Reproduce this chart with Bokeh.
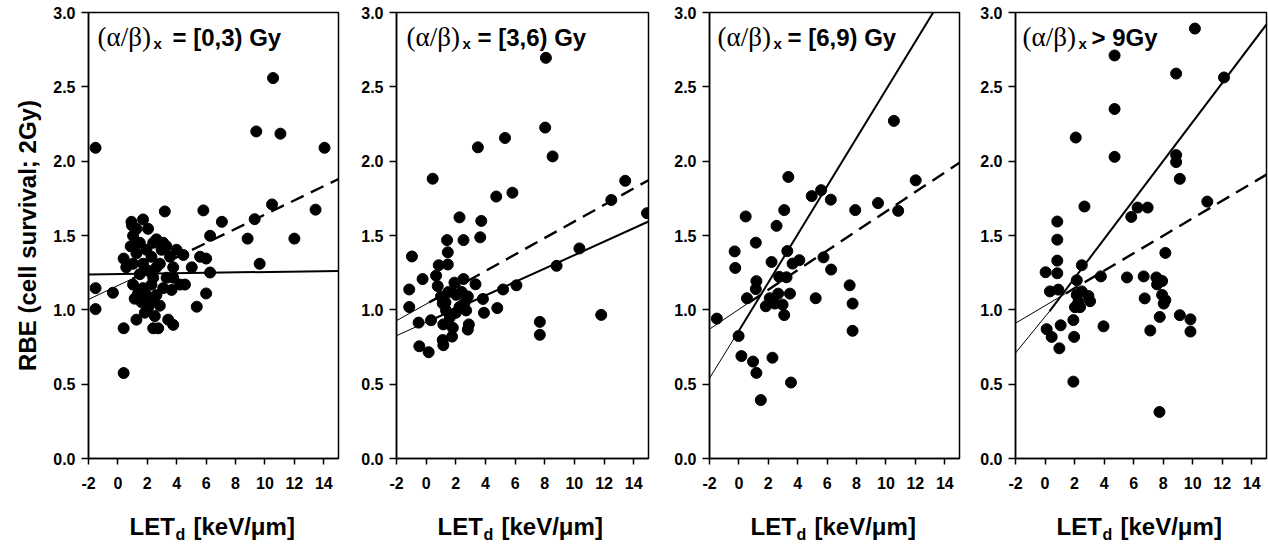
from bokeh.plotting import figure
from bokeh.models import Range1d, FixedTicker, Label, PrintfTickFormatter
from bokeh.layouts import row, column
from bokeh.embed import file_html
from bokeh.resources import INLINE

# ---------------- data ----------------
x_ticks = [-2, 0, 2, 4, 6, 8, 10, 12, 14]
y_ticks = [0.0, 0.5, 1.0, 1.5, 2.0, 2.5, 3.0]
panel_titles = ["= [0,3) Gy", "= [3,6) Gy", "= [6,9) Gy", "> 9Gy"]
y_label = "RBE (cell survival; 2Gy)"
x_label_main = "LET"
x_label_sub = "d"
x_label_unit = "[keV/\u03bcm]"

p1_let = [-1.52, -1.52, -1.52, -0.34, 0.39, 0.39, 0.39, 0.57, 1.26, 1.71,
          0.96, 1.03, 0.87, 1.26, 2.05, 2.62, 3.19, 3.30, 3.99, 4.45,
          2.85, 1.49, 1.03, 1.14, 1.94, 2.40, 3.08, 3.76, 4.22, 4.56,
          2.05, 2.51, 2.40, 2.74, 3.42, 3.76, 5.36, 6.00, 6.27, 6.00,
          5.02, 5.59, 6.27, 5.81, 7.07, 8.82, 9.30, 9.64, 9.41, 10.55,
          11.05, 10.48, 12.00, 13.44, 14.05,
          0.92, 1.26, 1.49, 1.94, 2.28, 1.71, 2.05, 2.62, 2.97, 3.54,
          2.28, 1.71, 2.62, 3.31, 3.76, 1.60, 1.83, 2.28, 2.85, 3.08,
          2.40, 3.65, 1.03, 1.37]
p1_rbe = [2.09, 1.146, 1.005, 1.115, 1.345, 0.876, 0.575, 1.286, 0.934, 1.608,
          1.568, 1.498, 1.427, 1.38, 1.545, 1.474, 1.662, 1.427, 1.404, 1.369,
          1.31, 1.24, 1.17, 1.075, 1.099, 1.216, 1.146, 1.216, 1.17, 1.17,
          1.016, 0.958, 0.876, 0.876, 0.934, 0.899, 1.021, 1.11, 1.251, 1.345,
          1.286, 1.357, 1.498, 1.669, 1.592, 1.479, 1.61, 1.31, 2.20, 2.559,
          2.185, 1.709, 1.479, 1.674, 2.09,
          1.592, 1.545, 1.451, 1.404, 1.357, 1.31, 1.263, 1.286, 1.404, 1.357,
          1.169, 1.146, 1.099, 1.216, 1.286, 1.052, 0.981, 1.052, 1.028, 1.451,
          1.451, 1.134, 1.31, 1.11]

p2_let = [-1.14, -1.14, -0.96, -0.51, -0.46, 0.17, -0.24, 0.33, 0.44, 0.67,
          0.78, 0.85, 1.46, 1.46, 1.41, 1.12, 1.16, 1.12, 1.16, 1.00,
          1.34, 1.80, 1.75, 1.91, 2.02, 2.25, 2.52, 2.52, 2.25, 2.70,
          2.81, 2.88, 2.81, 3.33, 3.49, 3.65, 3.72, 3.83, 3.90, 4.80,
          4.73, 5.19, 5.32, 5.82, 6.09, 7.67, 7.67, 8.03, 8.08, 8.53,
          8.80, 10.34, 11.81, 12.49, 13.43, 14.90,
          1.30, 1.60, 2.00, 2.40, 2.60, 1.50]
p2_rbe = [1.137, 1.019, 1.359, 0.914, 0.755, 0.715, 1.207, 0.930, 1.882, 1.23,
          1.16, 1.30, 1.305, 1.387, 1.469, 1.043, 0.902, 0.797, 0.762, 1.09,
          0.996, 0.879, 0.82, 1.183, 1.101, 1.622, 1.469, 1.207, 1.019, 0.996,
          1.09, 0.902, 0.867, 1.172, 2.093, 1.488, 1.598, 1.073, 0.98, 1.012,
          1.762, 1.137, 2.156, 1.788, 1.165, 0.919, 0.832, 2.226, 2.695, 2.032,
          1.296, 1.413, 0.966, 1.739, 1.868, 1.65,
          1.05, 0.95, 0.98, 1.12, 1.05, 1.12]

p3_let = [-1.50, -0.29, -0.25, -0.02, 0.17, 0.46, 0.55, 0.96, 1.19, 1.15,
          1.19, 1.15, 1.49, 1.83, 2.22, 2.28, 2.10, 2.44, 2.56, 2.67,
          2.74, 2.97, 3.08, 3.08, 3.24, 3.29, 3.36, 3.47, 3.54, 3.65,
          4.11, 4.95, 5.22, 5.59, 5.75, 6.25, 6.27, 7.53, 7.73, 7.73,
          7.91, 9.46, 10.54, 10.83, 12.02]
p3_rbe = [0.941, 1.393, 1.282, 0.824, 0.689, 1.628, 1.078, 0.652, 0.576, 1.452,
          1.193, 1.14, 0.393, 1.024, 1.322, 0.678, 1.078, 1.042, 1.565, 1.109,
          1.222, 1.035, 1.671, 0.965, 1.219, 1.395, 1.894, 1.109, 0.511, 1.311,
          1.334, 1.765, 1.078, 1.805, 1.353, 1.741, 1.271, 1.165, 1.042, 0.859,
          1.671, 1.718, 2.271, 1.666, 1.871]

p4_let = [0.04, 0.11, 0.45, 0.33, 0.83, 0.83, 0.83, 0.83, 0.90, 0.97,
          1.06, 1.92, 1.97, 1.92, 2.08, 2.15, 2.15, 2.03, 2.26, 2.37,
          2.49, 2.49, 2.67, 2.94, 3.05, 3.78, 3.96, 4.71, 4.71, 4.71,
          5.55, 5.84, 6.27, 6.95, 6.68, 6.75, 7.13, 7.54, 7.59, 7.77,
          7.93, 7.93, 8.04, 8.15, 8.15, 7.75, 8.88, 8.88, 8.88, 9.13,
          9.13, 9.85, 9.85, 10.15, 10.99, 12.12]
p4_rbe = [1.253, 0.87, 0.818, 1.124, 1.594, 1.472, 1.331, 1.246, 1.136, 0.741,
          0.896, 0.931, 0.818, 0.517, 2.159, 1.199, 1.10, 1.018, 1.053, 1.018,
          1.30, 1.124, 1.695, 1.093, 1.058, 1.225, 0.889, 2.711, 2.351, 2.029,
          1.218, 1.625, 1.688, 1.688, 1.225, 1.077, 0.861, 1.218, 1.171, 0.952,
          1.194, 1.10, 1.042, 1.383, 1.065, 0.313, 2.589, 2.041, 1.994, 1.881,
          0.964, 0.936, 0.854, 2.892, 1.728, 2.563]

# fit lines: x = [start, end of thin part, end], y read at those x
solid_x = [[-2, -2, 15], [-2, 0.2, 15], [-2, 0.0, 15], [-2, 0.3, 15]]
solid_y = [[1.237, 1.237, 1.262], [0.826, 0.925, 1.594], [0.54, 0.86, 3.29], [0.71, 0.99, 2.92]]
dash_x = [[-2, 1.0, 15], [-2, 0.2, 15], [-2, 0.7, 15], [-2, 1.4, 15]]
dash_y = [[1.07, 1.21, 1.88], [0.927, 1.05, 1.872], [0.87, 1.05, 1.99], [0.91, 1.11, 1.91]]

lets = [p1_let, p2_let, p3_let, p4_let]
rbes = [p1_rbe, p2_rbe, p3_rbe, p4_rbe]

# ---------------- layout ----------------
H = 545
TOP = 12
FH = 446
MAIN_H = 500
LAB_H = H - MAIN_H
geo = [  # left border, frame width, right border
    (88, 250, 4),
    (54, 252, 4),
    (57, 250, 4),
    (52, 251, 2),
]
title_dx = [(9, 84), (10, 81), (8, 78), (7, 76)]

SANS = "Liberation Sans"
SERIF = "Liberation Serif"


def lab(x, y, text, size, font=SANS, style="bold"):
    return Label(x=x, y=y, text=text, text_font=font, text_font_style=style,
                 text_font_size=size, text_color="black",
                 text_baseline="middle", text_align="left")


cols = []
for i in range(4):
    lb, fw, rb = geo[i]
    W = lb + fw + rb
    p = figure(x_range=Range1d(-2, 15), y_range=Range1d(0, 3),
               width=W, height=MAIN_H,
               min_border_left=lb, min_border_top=TOP, min_border_right=rb,
               min_border_bottom=MAIN_H - TOP - FH,
               output_backend="svg", toolbar_location=None,
               background_fill_color="white", border_fill_color="white")
    p.grid.visible = False
    p.outline_line_color = "black"
    p.outline_line_width = 1.5
    p.outline_line_alpha = 1.0
    for ax in (p.xaxis, p.yaxis):
        ax.axis_line_width = 1.5
        ax.axis_line_color = "black"
        ax.major_tick_line_width = 1.5
        ax.major_tick_line_color = "black"
        ax.major_tick_in = 0
        ax.minor_tick_line_color = None
        ax.major_label_text_font = SANS
        ax.major_label_text_font_style = "bold"
        ax.major_label_text_font_size = "16px"
        ax.major_label_text_color = "black"
    p.xaxis.ticker = FixedTicker(ticks=x_ticks)
    p.yaxis.ticker = FixedTicker(ticks=y_ticks)
    p.xaxis.formatter = PrintfTickFormatter(format="%d")
    p.yaxis.formatter = PrintfTickFormatter(format="%.1f")
    p.xaxis.major_tick_out = 6
    p.yaxis.major_tick_out = 7
    p.xaxis.major_label_standoff = 12
    p.yaxis.major_label_standoff = 6
    if i == 0:
        p.yaxis.axis_label = y_label
        p.yaxis.axis_label_text_font = SANS
        p.yaxis.axis_label_text_font_style = "bold"
        p.yaxis.axis_label_text_font_size = "24px"
        p.yaxis.axis_label_text_color = "black"
        p.yaxis.axis_label_standoff = 9

    def px2x(dx, fw=fw):
        return -2 + dx / fw * 17.0

    def px2y(dy):
        return 3.0 - dy / FH * 3.0

    # fit lines
    sx, sy = solid_x[i], solid_y[i]
    if sx[1] > sx[0]:
        p.line(sx[0:2], sy[0:2], line_color="black", line_width=1)
    p.line(sx[1:3], sy[1:3], line_color="black", line_width=2)
    dx_, dy_ = dash_x[i], dash_y[i]
    p.line(dx_[0:2], dy_[0:2], line_color="black", line_width=1)
    p.line(dx_[1:3], dy_[1:3], line_color="black", line_width=2.4, line_dash="14 8")

    # points
    p.scatter(lets[i], rbes[i], size=11, color="black")

    # panel title (vertical centres)
    a, c = title_dx[i]
    p.add_layout(lab(px2x(a), px2y(24), "(\u03b1/\u03b2)", "27px", font=SERIF, style="normal"))
    p.add_layout(lab(px2x(a + 56), px2y(31), "x", "15px"))
    p.add_layout(lab(px2x(c), px2y(25), panel_titles[i], "24px"))

    # x-axis label strip below the panel; its frame is aligned with the panel frame
    lf = figure(width=W, height=LAB_H,
                x_range=Range1d(0, fw), y_range=Range1d(0, LAB_H),
                min_border_left=lb, min_border_right=rb,
                min_border_top=0, min_border_bottom=0,
                output_backend="svg", toolbar_location=None,
                x_axis_type=None, y_axis_type=None,
                background_fill_color="white", border_fill_color="white")
    lf.outline_line_color = None
    lf.grid.visible = False
    lf.add_layout(lab(41, 19, x_label_main, "24px"))
    lf.add_layout(lab(87, 11, x_label_sub, "16px"))
    lf.add_layout(lab(105, 19, x_label_unit, "24px"))

    cols.append(column(p, lf, spacing=0))

layout = row(*cols, spacing=0)
open("out.html", "w").write(file_html(layout, INLINE))
